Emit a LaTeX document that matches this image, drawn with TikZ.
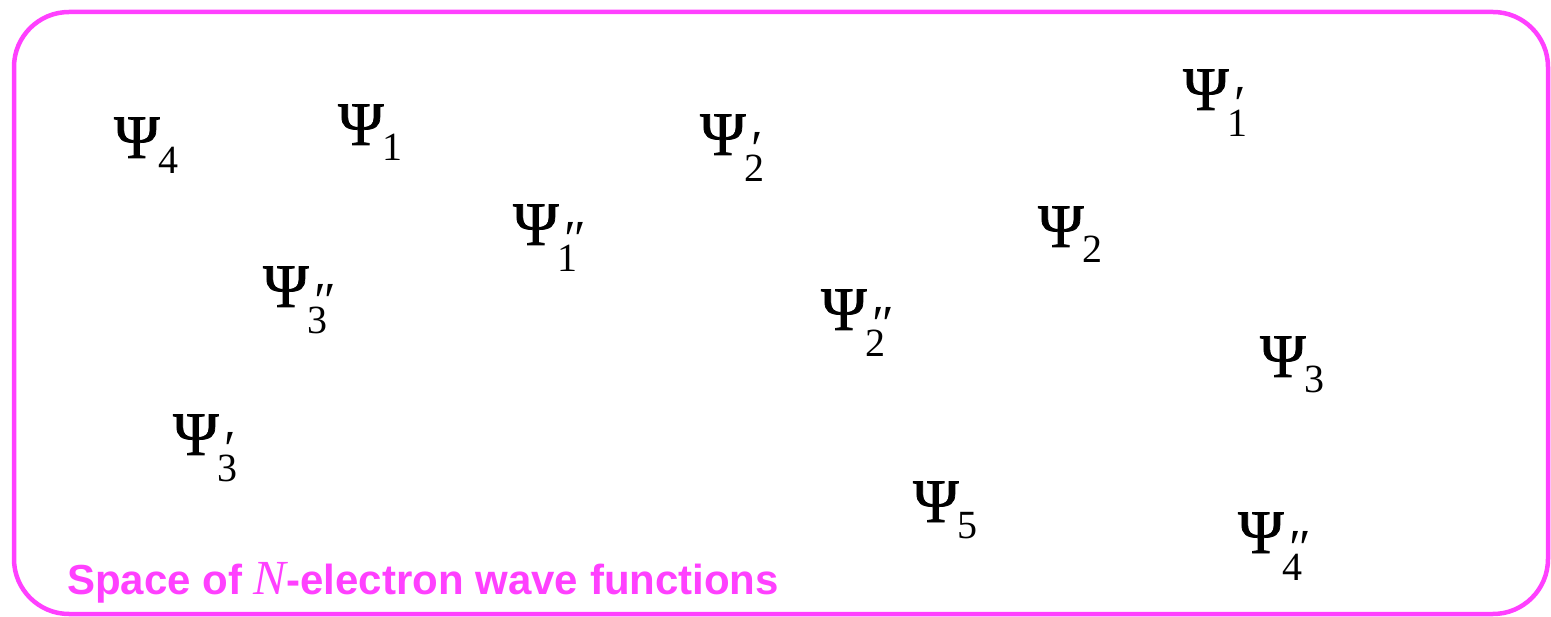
\documentclass[tikz,border=0pt]{standalone}
\usepackage{fontspec}
\setmainfont{Liberation Serif}
\newfontfamily\lsans{Liberation Sans}
\newfontfamily\psifont[FakeBold=1.2]{Liberation Serif}
\definecolor{mag}{RGB}{255,64,255}
\newcommand\pr{{\fontsize{52}{52}\selectfont ′}}
\newcommand\ppr{{\fontsize{52}{52}\selectfont ″}}
\newcommand\bigpsi{{\psifont\fontsize{62}{62}\selectfont Ψ}}
\newcommand\wfa[1]{\bigpsi{\fontsize{40}{40}\selectfont\hspace{-1pt}\raisebox{-16pt}{#1}}}
\newcommand\wfb[2]{\bigpsi{\fontsize{40}{40}\selectfont\hspace{-1pt}\makebox[0pt][l]{\hspace{7pt}\raisebox{-12pt}{#2}}\raisebox{-27pt}{#1}}}
\tikzset{
  wf/.style={anchor=base west,inner sep=0pt,outer sep=0pt},
  frame/.style={draw=mag,line width=4.5pt,rounded corners=55pt},
  caption/.style={anchor=base west,inner sep=0pt,text=mag,font=\lsans\bfseries\fontsize{42}{42}\selectfont}
}
\begin{document}
\begin{tikzpicture}[x=1pt,y=-1pt]
\useasboundingbox (0,0) rectangle (1551,617);
\draw[frame] (14,12) rectangle (1548,614);
\node[wf] (p4) at (114,158) {\wfa{4}};
\node[wf] (p1) at (338,145) {\wfa{1}};
\node[wf] (p2p) at (700,155) {\wfb{2}{\pr}};
\node[wf] (p1p) at (1183,110) {\wfb{1}{\pr}};
\node[wf] (p1pp) at (513,245) {\wfb{1}{\ppr}};
\node[wf] (p2) at (1038,247) {\wfa{2}};
\node[wf] (p3pp) at (263,307) {\wfb{3}{\ppr}};
\node[wf] (p2pp) at (821,330) {\wfb{2}{\ppr}};
\node[wf] (p3) at (1260,377) {\wfa{3}};
\node[wf] (p3p) at (173,455) {\wfb{3}{\pr}};
\node[wf] (p5) at (913,522) {\wfa{5}};
\node[wf] (p4pp) at (1238,553) {\wfb{4}{\ppr}};
\node[caption] (cap) at (67,594) {Space of {\rmfamily\itshape\mdseries\fontsize{49}{49}\selectfont N}-electron wave functions};
\end{tikzpicture}
\end{document}
